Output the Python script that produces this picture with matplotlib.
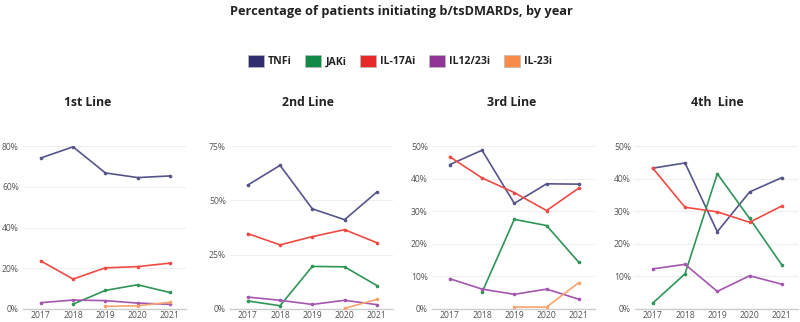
import matplotlib
matplotlib.use("Agg")
import matplotlib.pyplot as plt
from matplotlib.patches import Patch
import numpy as np

plt.rcParams["font.family"] = ["Open Sans", "DejaVu Sans"]

years = ["2017", "2018", "2019", "2020", "2021"]
series = ["TNFi", "JAKi", "IL-17Ai", "IL12/23i", "IL-23i"]
patch_colors = ["#2f2f6f", "#108a46", "#e62a2a", "#8e3595", "#f78b4a"]
line_colors = ["#55558c", "#2f9558", "#f04a44", "#a456b0", "#f8a46e"]

N = np.nan
# values in %, one list per series, per panel
line1 = {
    "TNFi":     [74.1, 79.6, 66.8, 64.5, 65.3],
    "JAKi":     [N, 2.4, 9.1, 11.9, 8.1],
    "IL-17Ai":  [23.6, 14.7, 20.2, 20.8, 22.5],
    "IL12/23i": [3.1, 4.4, 4.1, 2.9, 2.3],
    "IL-23i":   [N, N, 1.3, 1.6, 3.3],
}
line2 = {
    "TNFi":     [57.0, 66.1, 46.1, 41.1, 53.8],
    "JAKi":     [3.7, 1.5, 19.6, 19.4, 10.8],
    "IL-17Ai":  [34.7, 29.5, 33.3, 36.5, 30.5],
    "IL12/23i": [5.5, 4.0, 2.1, 4.0, 2.0],
    "IL-23i":   [N, N, N, 0.3, 4.4],
}
line3 = {
    "TNFi":     [44.3, 48.7, 32.4, 38.4, 38.3],
    "JAKi":     [N, 5.1, 27.5, 25.6, 14.3],
    "IL-17Ai":  [46.7, 40.2, 35.7, 30.2, 37.1],
    "IL12/23i": [9.3, 6.1, 4.5, 6.1, 3.0],
    "IL-23i":   [N, N, 0.6, 0.6, 8.1],
}
line4 = {
    "TNFi":     [43.2, 44.8, 23.7, 35.9, 40.3],
    "JAKi":     [1.8, 10.8, 41.5, 27.8, 13.5],
    "IL-17Ai":  [43.2, 31.2, 29.8, 26.6, 31.6],
    "IL12/23i": [12.3, 13.7, 5.4, 10.2, 7.6],
    "IL-23i":   [N, N, N, N, N],
}
panels = [line1, line2, line3, line4]
panel_titles = ["1st Line", "2nd Line", "3rd Line", "4th  Line"]
yticks = [[0, 20, 40, 60, 80], [0, 25, 50, 75], [0, 10, 20, 30, 40, 50], [0, 10, 20, 30, 40, 50]]

W, H = 800, 322
fig = plt.figure(figsize=(W / 100, H / 100), dpi=100)

lefts = [23, 230, 432, 635]
width = 163
title_x = [88, 308, 512, 717]
bottom_px, top_px = 309, 146

x = np.arange(len(years))
for i, data in enumerate(panels):
    ax = fig.add_axes([lefts[i] / W, (H - bottom_px) / H, width / W, (bottom_px - top_px) / H])
    for s, c in zip(series, line_colors):
        ax.plot(x, data[s], color=c, lw=1.2, marker="o", ms=1.6, zorder=3)
    ax.set_xlim(-0.55, 4.5)
    ax.set_ylim(0, yticks[i][-1])
    ax.set_yticks(yticks[i])
    ax.set_yticklabels([f"{t}%" for t in yticks[i]])
    ax.set_xticks(x)
    ax.set_xticklabels(years)
    ax.grid(axis="y", color="#eeeeee", lw=0.8)
    ax.set_axisbelow(True)
    for sp in ["top", "right", "left"]:
        ax.spines[sp].set_visible(False)
    ax.spines["bottom"].set_color("#cccccc")
    ax.spines["bottom"].set_linewidth(1.0)
    ax.tick_params(length=0, labelsize=6.2, colors="#555555")
    ax.tick_params(axis="x", pad=1.5)
    ax.tick_params(axis="y", pad=3)
    fig.text(title_x[i] / W, 1 - 103 / H, panel_titles[i], ha="center", va="center",
             fontsize=8.8, fontweight="bold", color="#222222")

fig.text(401 / W, 1 - 11 / H, "Percentage of patients initiating b/tsDMARDs, by year",
         ha="center", va="center", fontsize=9.2, fontweight="bold", color="#222222")

handles = [Patch(facecolor=c, edgecolor="#bbbbbb", lw=0.5) for c in patch_colors]
leg = fig.legend(handles, series, loc="center", bbox_to_anchor=(400 / W, 1 - 61 / H), ncol=5,
                 frameon=False, handlelength=1.5, handleheight=1.5, handletextpad=0.4,
                 columnspacing=1.3, prop={"size": 7.6, "weight": "bold"})
for t in leg.get_texts():
    t.set_color("#222222")

fig.savefig("out.png", dpi=100)
